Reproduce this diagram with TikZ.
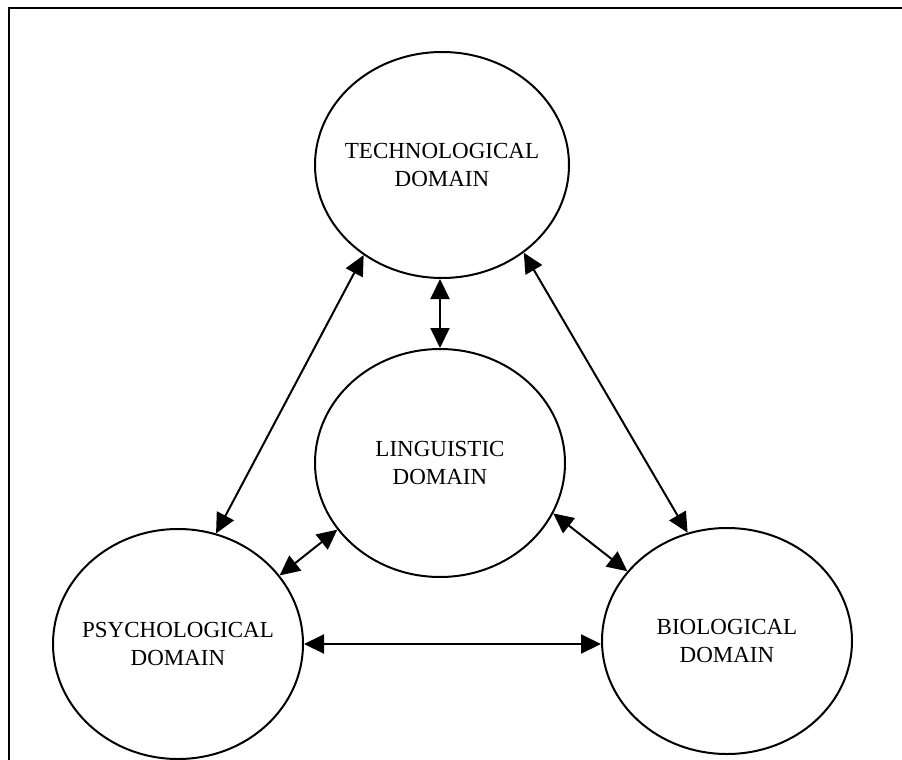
\documentclass[tikz,border=0pt]{standalone}
\usepackage{fontspec}
\setmainfont{Liberation Serif}
\usetikzlibrary{shapes.geometric,arrows.meta}

\tikzset{
  domainbox/.style={ellipse, draw, line width=2pt, inner xsep=-30pt, inner ysep=0pt,
                 align=center, font=\fontsize{23}{28}\selectfont},
  link/.style={line width=2pt, {Triangle[length=20pt,width=19pt]}-{Triangle[length=20pt,width=19pt]}}
}

\begin{document}
\begin{tikzpicture}[x=1pt,y=-1pt]
  \useasboundingbox (0,0) rectangle (902,760);

  % open frame: top and left rules only
  \coordinate (fl) at (9,760);
  \coordinate (ftl) at (9,8);
  \coordinate (ftr) at (902,8);
  \draw[line width=2.5pt, line cap=rect] (fl) -- (ftl) -- (ftr);

  % the four domains
  \node[domainbox, minimum width=254pt, minimum height=226pt] (T) at (442,165) {TECHNOLOGICAL\\DOMAIN};
  \node[domainbox, minimum width=250pt, minimum height=228pt] (L) at (440,463) {LINGUISTIC\\DOMAIN};
  \node[domainbox, minimum width=250pt, minimum height=230pt] (P) at (178,644) {PSYCHOLOGICAL\\DOMAIN};
  \node[domainbox, minimum width=250pt, minimum height=226pt] (B) at (727,641) {BIOLOGICAL\\DOMAIN};

  % two-way links between domains
  \draw[link] (T.south -| L.north) -- (L.north);
  \draw[link] (T.229) -- (P.71);
  \draw[link] (T.313) -- (B.110);
  \draw[link] (L.213) -- (P.34);
  \draw[link] (L.336) -- (B.145);
  \draw[link] (P.east) -- (P.east -| B.west);
\end{tikzpicture}
\end{document}
